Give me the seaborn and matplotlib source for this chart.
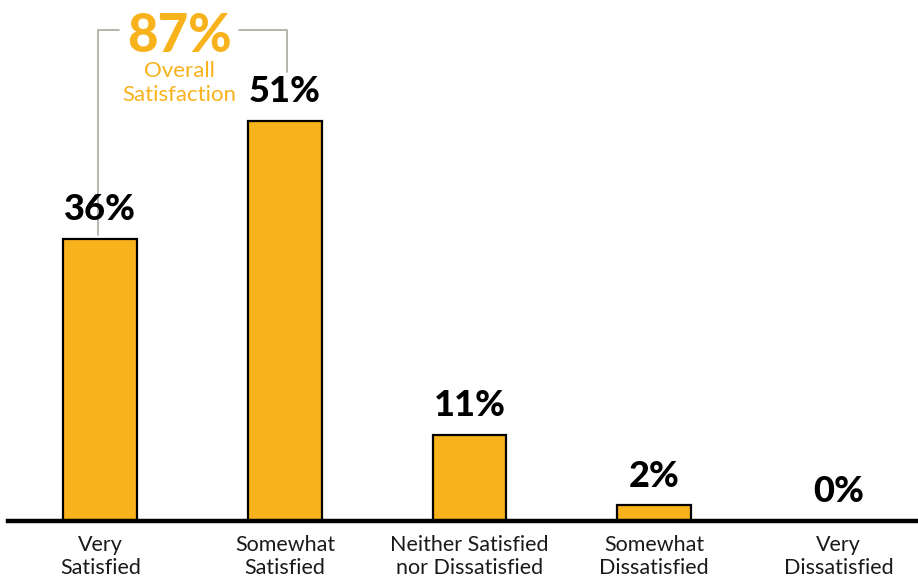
import matplotlib
matplotlib.use("Agg")
import matplotlib.pyplot as plt
import seaborn as sns
import pandas as pd

# Data
categories = ["Very\nSatisfied", "Somewhat\nSatisfied", "Neither Satisfied\nnor Dissatisfied",
              "Somewhat\nDissatisfied", "Very\nDissatisfied"]
values = [36, 51, 11, 2, 0]
overall_value = 87
overall_label = "Overall\nSatisfaction"

BAR_COLOR = "#F8B21C"
df = pd.DataFrame({"Category": categories, "Percent": values})

sns.set_style("white")
plt.rcParams["font.family"] = ["Lato", "DejaVu Sans"]

fig = plt.figure(figsize=(9.18, 5.79), dpi=100)
ax = fig.add_axes([8 / 918, 58 / 579, 910 / 918, 521 / 579])

sns.barplot(data=df, x="Category", y="Percent", color=BAR_COLOR, width=0.4,
            edgecolor="black", linewidth=1.6, saturation=1, ax=ax)

ax.set_xlim(-0.5, 4.43)
ax.set_ylim(0, 66.4)
ax.set_xlabel("")
ax.set_ylabel("")
ax.set_yticks([])
for side in ["top", "right", "left"]:
    ax.spines[side].set_visible(False)
ax.spines["bottom"].set_linewidth(3.2)
ax.spines["bottom"].set_color("black")
ax.tick_params(axis="x", length=0, pad=10, labelsize=15.5, labelcolor="#1a1a1a")
for lbl in ax.get_xticklabels():
    lbl.set_fontweight("normal")
    lbl.set_linespacing(1.22)

# value labels above bars
for i, v in enumerate(values):
    ax.annotate(f"{v}%", (i, v), xytext=(0, 9), textcoords="offset points",
                ha="center", va="bottom", fontsize=26, fontweight="black", color="black")

# bracket for overall satisfaction
bracket_color = "#A8A8A0"
ax.plot([-0.01, -0.01, 0.1], [36.4, 62.6, 62.6], color=bracket_color, lw=1.2, clip_on=False)
ax.plot([0.75, 1.01, 1.01], [62.6, 62.6, 57.2], color=bracket_color, lw=1.2, clip_on=False)
ax.text(0.43, 61.8, f"{overall_value}%", ha="center", va="center", fontsize=38,
        fontweight="black", color=BAR_COLOR)
ax.text(0.43, 55.8, overall_label, ha="center", va="center", fontsize=16,
        fontweight="normal", color=BAR_COLOR, linespacing=1.25)

fig.savefig("out.png", dpi=100)
